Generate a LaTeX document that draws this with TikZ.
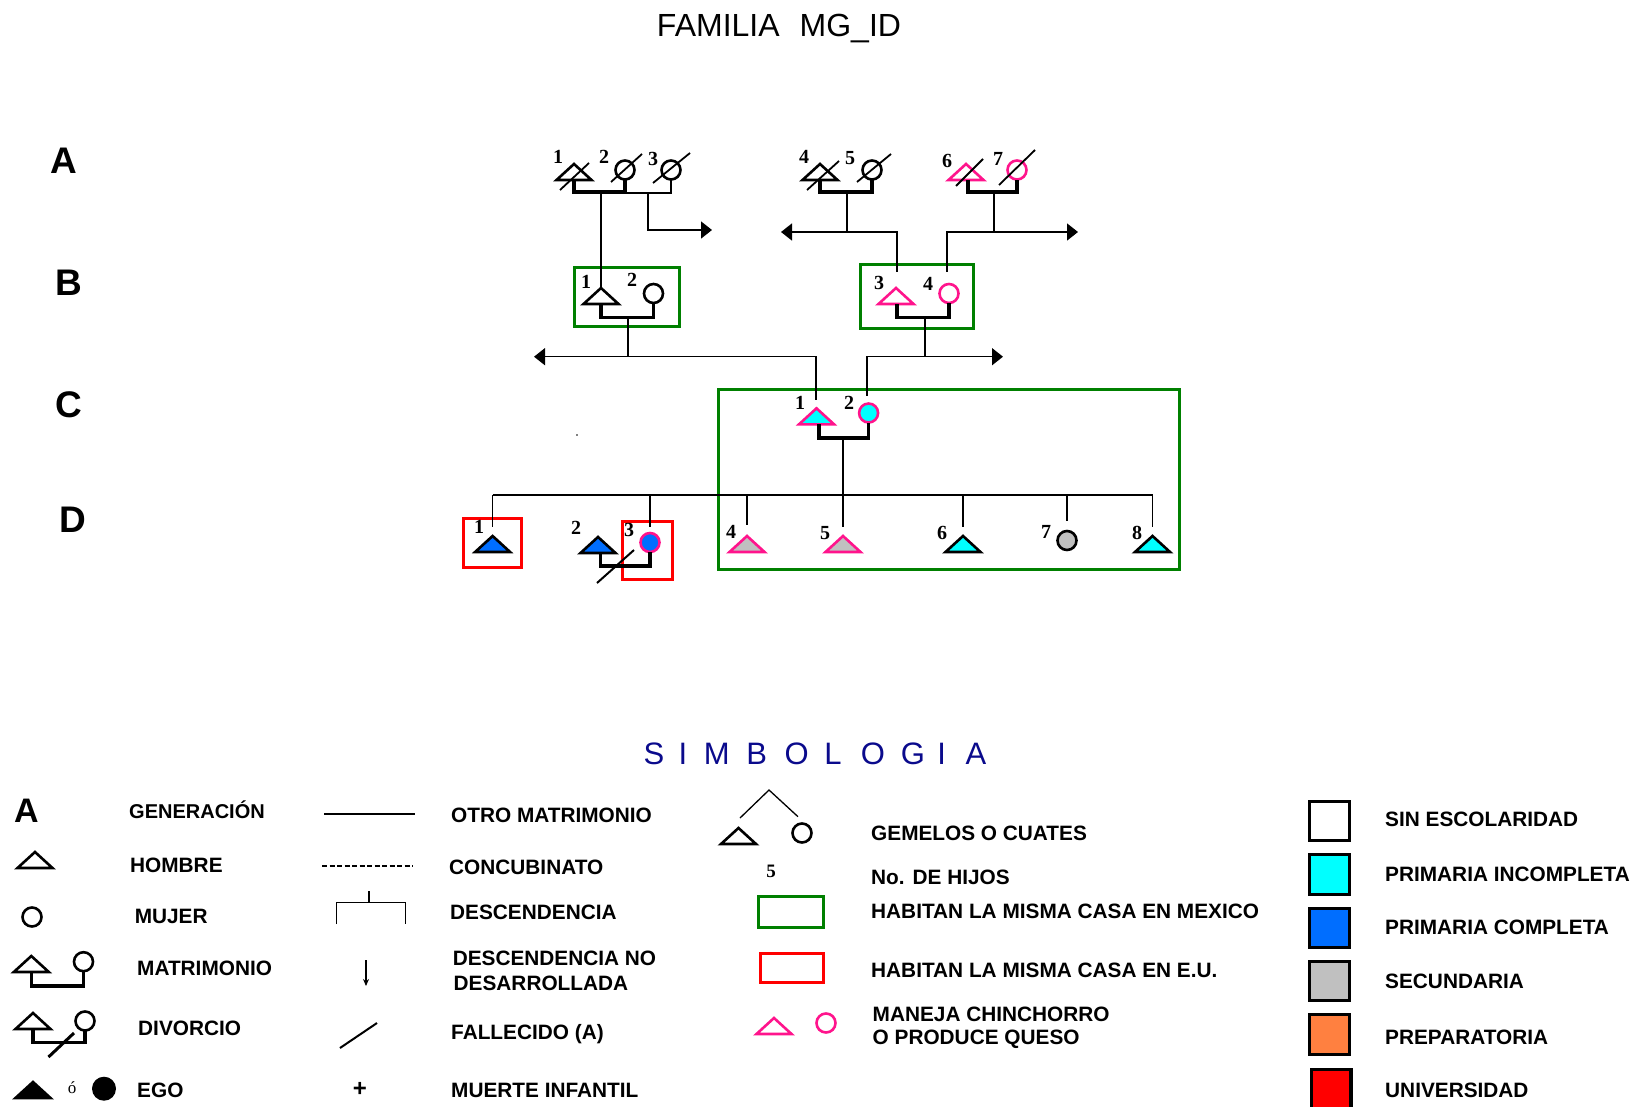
\documentclass[tikz,border=0pt]{standalone}
\usepackage{fontspec}
\setmainfont{Liberation Sans}
\newfontfamily\numfont{Liberation Serif}
\usetikzlibrary{shapes.geometric,arrows.meta,calc}
\definecolor{pk}{RGB}{255,20,140}
\definecolor{cy}{RGB}{0,255,255}
\definecolor{bl}{RGB}{0,110,255}
\definecolor{gr}{RGB}{192,192,192}
\definecolor{orng}{RGB}{255,128,64}
\definecolor{rd}{RGB}{255,0,0}
\definecolor{grn}{RGB}{0,128,0}
\definecolor{navy}{RGB}{10,10,140}
\begin{document}
\begin{tikzpicture}[x=1pt,y=-1pt,
  male/.style={isosceles triangle, shape border rotate=90, isosceles triangle stretches,
    minimum width=35pt, minimum height=16pt, inner sep=0pt, outer sep=0pt,
    draw=black, line width=2.6pt, anchor=lower side},
  female/.style={circle, minimum size=19pt, inner sep=0pt, outer sep=0pt, draw=black, line width=2.6pt},
  marr/.style={line width=3.2pt, line join=miter},
  conn/.style={line width=1.5pt},
  arr/.style={-{Triangle[length=11pt,width=17pt]}},
  dead/.style={line width=1.8pt},
  mex/.style={draw=grn, line width=3pt},
  usa/.style={draw=rd, line width=3pt},
  num/.style={font=\numfont\bfseries\fontsize{20}{20}\selectfont, inner sep=0pt},
  gen/.style={font=\bfseries\fontsize{37}{37}\selectfont, inner sep=0pt},
  leg/.style={font=\bfseries\fontsize{20.8}{22}\selectfont, inner sep=0pt, anchor=west, text height=14.9pt, text depth=0pt},
  ebox/.style={draw=black, line width=3.5pt}
]
\useasboundingbox (0,0) rectangle (1640,1106);

% ---------- title and generations ----------
\node[font=\fontsize{32}{32}\selectfont, inner sep=0pt] (title) at (779,29) {FAMILIA\hspace{20pt}MG\_ID};
\node[gen] (gA) at (64,161) {A};
\node[gen] (gB) at (69,283) {B};
\node[gen] (gC) at (69,404.5) {C};
\node[gen] (gD) at (73,519.5) {D};

% ---------- household boxes ----------
\draw[mex] (574.5,267.5) rectangle (679,326.5);
\draw[mex] (860.5,264) rectangle (973.5,328.5);
\draw[mex] (718,389.5) rectangle (1179.5,569.5);
\draw[usa] (463.5,518.5) rectangle (521.5,567.5);
\draw[usa] (622.5,521.5) rectangle (672.5,579.5);

% ---------- generation A ----------
\node[male] (A1) at (574,180) {};
\node[female] (A2) at (625,170) {};
\node[female] (A3) at (671,170) {};
\node[male] (A4) at (820,180) {};
\node[female] (A5) at (872,170) {};
\node[male, draw=pk] (A6) at (966,180) {};
\node[female, draw=pk] (A7) at (1017,170) {};
\node[num] (nA1) at (558,157) {1};
\node[num] (nA2) at (604,157) {2};
\node[num] (nA3) at (653,159) {3};
\node[num] (nA4) at (804,157) {4};
\node[num] (nA5) at (850,158) {5};
\node[num] (nA6) at (947,161) {6};
\node[num] (nA7) at (998,159) {7};
\draw[dead] (560,190) -- (589,163);
\draw[dead] (611,182) -- (642,154);
\draw[dead] (653,183) -- (690,153);
\draw[dead] (807,190) -- (839,161);
\draw[dead] (857,182) -- (891,154);
\draw[dead] (956,186) -- (983,159);
\draw[dead] (999,185) -- (1035,150);

\draw[marr] (A1.lower side) -- ++(0,12) -| (A2.south);
\coordinate (jA2) at (625,193);
\draw[conn] (jA2) -| (A3.south);
\draw[marr] (A4.lower side) -- ++(0,12) -| (A5.south);
\draw[marr] (968,180) -- ++(0,12) -| (A7.south);

% ---------- generation B ----------
\node[male] (B1) at (601,304) {};
\node[female] (B2) at (653.5,293.5) {};
\node[male, draw=pk] (B3) at (896,304) {};
\node[female, draw=pk] (B4) at (949,293.5) {};
\node[num] (nB1) at (586,282) {1};
\node[num] (nB2) at (632,280) {2};
\node[num] (nB3) at (879,283) {3};
\node[num] (nB4) at (928,284) {4};
\draw[marr] (B1.lower side) -- ++(0,13.5) -| (B2.south);
\draw[marr] (897,304) -- ++(0,13.5) -| (B4.south);

% descent A -> B
\coordinate (jA12) at (601,192);
\draw[conn] (jA12) -- (B1.apex);
\coordinate (jA23) at (648,193);
\coordinate (eA23) at (712,230);
\draw[conn, arr] (jA23) |- (eA23);
\coordinate (jA45) at (847,192);
\coordinate (eA45) at (781,232);
\coordinate (tB3) at (897,272);
\draw[conn, arr] (jA45) |- (eA45);
\draw[conn] (jA45 |- eA45) -| (tB3);
\coordinate (jA67) at (994,192);
\coordinate (eA67) at (1078,232);
\coordinate (tB4) at (947,272);
\draw[conn, arr] (jA67) |- (eA67);
\draw[conn] (jA67 |- eA67) -| (tB4);

% ---------- generation C ----------
\node[male, draw=pk, fill=cy] (C1) at (816.5,424.3) {};
\node[female, draw=pk, fill=cy] (C2) at (868.6,413) {};
\node[num] (nC1) at (800,403) {1};
\node[num] (nC2) at (849,403) {2};
\draw[marr] (819,424.3) -- ++(0,13.7) -| (C2.south);

% descent B -> C
\coordinate (jB12) at (628,317.5);
\coordinate (eB12) at (534,356.7);
\coordinate (tC1) at (816,400);
\draw[conn, arr] (jB12) |- (eB12);
\draw[conn] (jB12 |- eB12) -| (tC1);
\coordinate (jB34) at (925,317.5);
\coordinate (eB34) at (1003,356.7);
\coordinate (tC2) at (867,396);
\draw[conn, arr] (jB34) |- (eB34);
\draw[conn] (jB34 |- eB34) -| (tC2);

% ---------- generation D ----------
\node[male, fill=bl] (D1) at (492.6,552) {};
\node[male, fill=bl] (D2) at (598,553) {};
\node[female, draw=pk, fill=bl] (D3) at (650,542.5) {};
\node[male, draw=pk, fill=gr] (D4) at (747,552) {};
\node[male, draw=pk, fill=gr] (D5) at (843,552) {};
\node[male, fill=cy] (D6) at (963,552) {};
\node[female, fill=gr] (D7) at (1067,540.5) {};
\node[male, fill=cy] (D8) at (1152.5,552) {};
\node[num] (nD1) at (479,527) {1};
\node[num] (nD2) at (576,528) {2};
\node[num] (nD3) at (629,530) {3};
\node[num] (nD4) at (731,532) {4};
\node[num] (nD5) at (825,533) {5};
\node[num] (nD6) at (942,533) {6};
\node[num] (nD7) at (1046,532) {7};
\node[num] (nD8) at (1137,533) {8};
\draw[marr] (600.5,553) -- ++(0,13) -| (D3.south);
\draw[line width=2pt] (597,583) -- (634,550);

% descent C -> D
\coordinate (jC) at (843,438);
\coordinate (sL) at (492.6,495);
\coordinate (sR) at (1152.5,495);
\draw[conn] (sL) -- (sR);
\draw[conn] (jC) -- ($(D5.apex)+(0,-9)$);
\draw[conn] (sL) -- ($(D1.apex)+(0,-9)$);
\draw[conn] (sL -| D3.north) -- ($(D3.north)+(0,-6)$);
\draw[conn] (sL -| D4.apex) -- ($(D4.apex)+(0,-11)$);
\draw[conn] (sL -| D6.apex) -- ($(D6.apex)+(0,-9)$);
\draw[conn] (sL -| D7.north) -- ($(D7.north)+(0,-10)$);
\draw[conn] (sR) -- ($(D8.apex)+(0,-9)$);
\fill (577,435) circle (0.9);

% ---------- legend ----------
\foreach \ch/\xx in {S/654,I/683,M/716.7,B/756.7,O/796.7,L/833,O/873,G/913,I/941.7,A/976}
  \node[font=\fontsize{31}{31}\selectfont, text=navy, inner sep=0pt] at (\xx,754) {\ch};

% column 1
\node[font=\bfseries\fontsize{34}{34}\selectfont, inner sep=0pt] (lA) at (26.5,811) {A};
\node[leg, font=\bfseries\fontsize{20}{22}\selectfont] (tGen) at (129,811.5) {GENERACIÓN};
\node[male] (lH) at (35,868) {};
\node[leg] (tH) at (130,865) {HOMBRE};
\node[female] (lM) at (32,917) {};
\node[leg] (tM) at (134.6,916) {MUJER};
\node[male] (lMt) at (31.3,972) {};
\node[female] (lMc) at (83.5,961.7) {};
\draw[marr] (lMt.lower side) -- ++(0,14) -| (lMc.south);
\node[leg] (tMat) at (137,968) {MATRIMONIO};
\node[male] (lDt) at (33,1029) {};
\node[female] (lDc) at (85,1021) {};
\draw[marr] (lDt.lower side) -- ++(0,13.7) -| (lDc.south);
\draw[line width=3pt] (48.5,1057) -- (74,1033);
\node[leg] (tDiv) at (138,1028) {DIVORCIO};
\node[male, fill=black] (lEt) at (33,1098) {};
\node[font=\numfont\fontsize{17}{17}\selectfont, inner sep=0pt] (lo) at (72,1088) {ó};
\node[circle, fill=black, minimum width=24pt, inner sep=0pt] (lEc) at (104,1088.7) {};
\node[leg] (tEgo) at (137,1090) {EGO};

% column 2
\coordinate (om1) at (324,814); \coordinate (om2) at (415,814);
\draw[line width=1.3pt] (om1) -- (om2);
\node[leg] (tOM) at (451,815) {OTRO MATRIMONIO};
\coordinate (cb1) at (322,866); \coordinate (cb2) at (413,866);
\draw[line width=1.3pt, dash pattern=on 5pt off 2.5pt] (cb1) -- (cb2);
\node[leg] (tCon) at (449,867) {CONCUBINATO};
\draw[line width=1.3pt] (336.7,924) -- (336.7,902.7) -- (405.4,902.7) -- (405.4,924);
\draw[line width=1.3pt] (369,902.7) -- (369,890.7);
\node[leg] (tDes) at (450,912) {DESCENDENCIA};
\coordinate (ar1) at (366,960); \coordinate (ar2) at (366,986);
\draw[line width=1.4pt, -{Stealth[length=7pt,width=6pt]}] (ar1) -- (ar2);
\node[leg] (tDND1) at (452.6,958.5) {DESCENDENCIA NO};
\node[leg] (tDND2) at (453.5,983) {DESARROLLADA};
\draw[line width=2pt] (340,1048) -- (377,1023);
\node[leg] (tFal) at (451,1032) {FALLECIDO (A)};
\node[font=\bfseries\fontsize{24}{24}\selectfont, inner sep=0pt] (lplus) at (360,1089) {+};
\node[leg] (tMI) at (451,1090) {MUERTE INFANTIL};

% column 3
\node[male] (lGt) at (738.5,844) {};
\node[female] (lGc) at (802,833) {};
\coordinate (gtop) at (769,790);
\draw[line width=1.3pt] (740,818) -- (gtop) -- (798,816.7);
\node[leg] (tGem) at (871,833) {GEMELOS O CUATES};
\node[font=\numfont\bfseries\fontsize{19}{19}\selectfont, inner sep=0pt] (l5) at (771,871) {5};
\node[leg] (tNo) at (871,876.7) {No.\hspace{8pt}DE HIJOS};
\draw[mex] (758.5,896.5) rectangle (823.5,927.5);
\node[leg] (tMex) at (871,911) {HABITAN LA MISMA CASA EN MEXICO};
\draw[usa] (760,953.5) rectangle (823.5,982.5);
\node[leg] (tEU) at (871,970) {HABITAN LA MISMA CASA EN E.U.};
\node[male, draw=pk] (lPt) at (774,1034) {};
\node[female, draw=pk] (lPc) at (826,1023) {};
\node[leg] (tCh1) at (872.5,1013.7) {MANEJA CHINCHORRO};
\node[leg] (tCh2) at (872.5,1037) {O PRODUCE QUESO};

% column 4
\draw[ebox, fill=white] (1309.5,801.5) rectangle (1349.5,840.5);
\node[leg] (tS0) at (1385,819) {SIN ESCOLARIDAD};
\draw[ebox, fill=cy] (1309.5,854.5) rectangle (1349.5,894.5);
\node[leg] (tS1) at (1385,874) {PRIMARIA INCOMPLETA};
\draw[ebox, fill=bl] (1309.5,908.5) rectangle (1349.5,947.5);
\node[leg] (tS2) at (1385,927.5) {PRIMARIA COMPLETA};
\draw[ebox, fill=gr] (1309.5,961.5) rectangle (1349.5,1000.5);
\node[leg] (tS3) at (1385,981) {SECUNDARIA};
\draw[ebox, fill=orng] (1309.5,1014.5) rectangle (1349.5,1054.5);
\node[leg] (tS4) at (1385,1036.7) {PREPARATORIA};
\draw[ebox, fill=rd] (1311.5,1069.5) rectangle (1351,1112);
\node[leg] (tS5) at (1385,1090) {UNIVERSIDAD};
\end{tikzpicture}
\end{document}
